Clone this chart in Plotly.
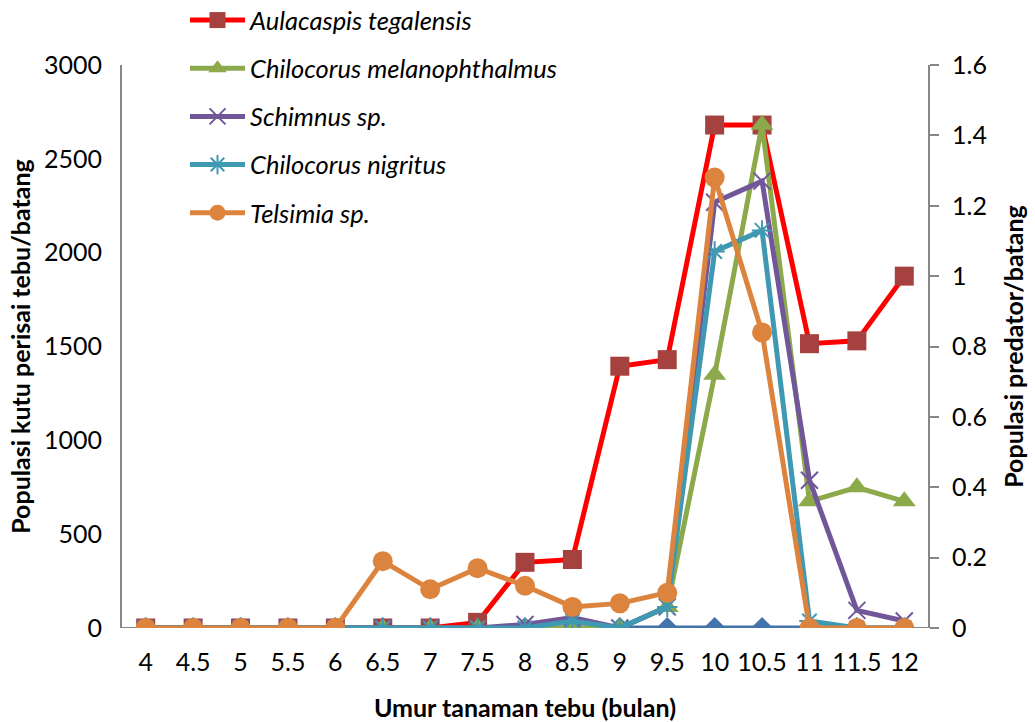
import plotly.graph_objects as go

# Umur tanaman (bulan) and tick labels
umur = [4, 4.5, 5, 5.5, 6, 6.5, 7, 7.5, 8, 8.5, 9, 9.5, 10, 10.5, 11, 11.5, 12]
umur_label = ["4", "4.5", "5", "5.5", "6", "6.5", "7", "7.5", "8", "8.5",
              "9", "9.5", "10", "10.5", "11", "11.5", "12"]

# Populasi kutu perisai (primary axis)
aulacaspis = [0, 0, 0, 0, 0, 0, 0, 30, 350, 365, 1395, 1430, 2680, 2680, 1515, 1530, 1875]
dasar = [0] * 17

# Populasi predator (secondary axis)
melanophthalmus = [0, 0, 0, 0, 0, 0, 0, 0, 0, 0, 0, 0.06, 0.72, 1.43, 0.36, 0.40, 0.36]
schimnus = [0, 0, 0, 0, 0, 0, 0, 0, 0.01, 0.03, 0, 0.06, 1.21, 1.27, 0.42, 0.05, 0.02]
nigritus = [0, 0, 0, 0, 0, 0, 0, 0, 0, 0.02, 0, 0.06, 1.07, 1.13, 0.02, 0, 0]
telsimia = [0, 0, 0, 0, 0, 0.19, 0.11, 0.17, 0.12, 0.06, 0.07, 0.10, 1.28, 0.84, 0, 0, 0]

FONT = "Lato, 'Open Sans', sans-serif"
AXIS_GREY = "#868686"
W, H = 1035, 722
ML, MR, MT, MB = 122, 107, 65, 94
PLOT_W, PLOT_H = W - ML - MR, H - MT - MB

fig = go.Figure()

fig.add_trace(go.Scatter(
    x=umur, y=dasar, mode="lines+markers", showlegend=False,
    line=dict(color="#4472AA", width=5),
    marker=dict(symbol="diamond", size=17, color="#4472AA"),
))
fig.add_trace(go.Scatter(
    x=umur, y=aulacaspis, name="Aulacaspis tegalensis", legendgroup="a",
    mode="lines+markers",
    line=dict(color="#FF0000", width=5),
    marker=dict(symbol="square", size=19, color="#A5423F"),
))
fig.add_trace(go.Scatter(
    x=umur, y=melanophthalmus, name="Chilocorus melanophthalmus", legendgroup="b",
    mode="lines+markers", yaxis="y2",
    line=dict(color="#8CA94B", width=5),
    marker=dict(symbol="triangle-up", size=20, color="#8CA94B"),
))
fig.add_trace(go.Scatter(
    x=umur, y=schimnus, name="Schimnus sp.", legendgroup="c",
    mode="lines+markers", yaxis="y2",
    line=dict(color="#71579A", width=5),
    marker=dict(symbol="x-thin", size=17, line=dict(color="#71579A", width=2)),
))
fig.add_trace(go.Scatter(
    x=umur, y=nigritus, name="Chilocorus nigritus", legendgroup="d",
    mode="lines+markers", yaxis="y2",
    line=dict(color="#3F99B2", width=5),
    marker=dict(symbol="asterisk-open", size=17, line=dict(color="#3F99B2", width=2)),
))
fig.add_trace(go.Scatter(
    x=umur, y=telsimia, name="Telsimia sp.", legendgroup="e",
    mode="lines+markers", yaxis="y2",
    line=dict(color="#DC843D", width=5),
    marker=dict(symbol="circle", size=20, color="#DC843D"),
))

fig.update_layout(
    width=W, height=H,
    margin=dict(l=ML, r=MR, t=MT, b=MB, autoexpand=False),
    paper_bgcolor="white", plot_bgcolor="white",
    font=dict(family=FONT, size=25, color="black"),
    xaxis=dict(
        range=[3.75, 12.25], tickmode="array", tickvals=umur, ticktext=umur_label,
        showgrid=False, zeroline=False, showline=False, ticks="",
        ticklabelstandoff=17,
        title=dict(text="<b>Umur tanaman tebu (bulan)</b>", font=dict(size=25), standoff=26),
    ),
    yaxis=dict(
        range=[0, 3000], dtick=500, showgrid=False, zeroline=False,
        showline=True, linecolor=AXIS_GREY, linewidth=2, ticks="",
        ticklabelstandoff=13,
        title=dict(text="<b>Populasi kutu perisai tebu/batang</b>", font=dict(size=25), standoff=6),
    ),
    yaxis2=dict(
        range=[0, 1.6], dtick=0.2, overlaying="y", side="right",
        showgrid=False, zeroline=False, showline=True, linecolor=AXIS_GREY, linewidth=2,
        ticks="outside", ticklen=9, tickcolor=AXIS_GREY, tickwidth=2,
        ticklabelstandoff=8,
        title=dict(text="<b>Populasi predator/batang</b>", font=dict(size=25), standoff=20),
    ),
    legend=dict(
        x=(185 - ML) / PLOT_W, xanchor="left", y=1 + (MT + 3) / PLOT_H, yanchor="top",
        bgcolor="rgba(0,0,0,0)", traceorder="grouped", tracegroupgap=12,
        font=dict(size=25.5, family=FONT, style="italic"), itemwidth=55,
    ),
    shapes=[dict(type="line", xref="paper", yref="y", x0=0, x1=1, y0=0, y1=0,
                 line=dict(color=AXIS_GREY, width=2), layer="below")],
)

fig.write_html("out.html")
